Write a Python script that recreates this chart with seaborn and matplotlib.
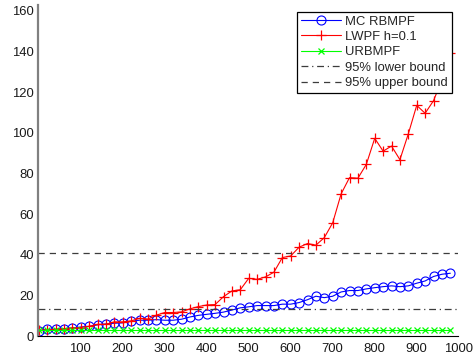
import matplotlib
matplotlib.use("Agg")
import matplotlib.pyplot as plt
import seaborn as sns
import pandas as pd

# ---- data ----
x_vals = [1, 21, 41, 61, 81, 101, 121, 141, 161, 181,
          201, 221, 241, 261, 281, 301, 321, 341, 361, 381,
          401, 421, 441, 461, 481, 501, 521, 541, 561, 581,
          601, 621, 641, 661, 681, 701, 721, 741, 761, 781,
          801, 821, 841, 861, 881, 901, 921, 941, 961, 981]

mc_rbmpf = [2.6, 3.4, 3.5, 3.7, 4.1, 4.6, 4.9, 5.6, 6.1, 6.4,
            6.6, 7.3, 7.9, 7.9, 8.2, 7.9, 7.9, 8.4, 9.5, 10.3,
            10.8, 11.3, 11.9, 12.9, 14.0, 14.5, 15.1, 15.1, 15.1, 15.8,
            15.8, 16.6, 18.0, 19.7, 19.0, 19.7, 21.8, 22.5, 22.5, 23.3,
            23.9, 24.4, 24.8, 24.4, 24.8, 26.1, 27.2, 29.4, 30.5, 31.0]

lwpf = [3.0, 3.2, 3.4, 3.8, 4.1, 4.3, 4.9, 5.9, 5.9, 7.1,
        7.1, 7.6, 8.8, 8.5, 10.4, 11.7, 11.7, 12.0, 13.5, 14.6,
        15.4, 15.6, 19.5, 22.3, 22.9, 28.5, 28.0, 29.2, 31.5, 38.7,
        39.5, 43.8, 45.6, 44.8, 48.5, 55.8, 70.0, 78.0, 77.7, 84.5,
        97.3, 91.0, 93.5, 86.8, 99.5, 113.5, 109.6, 115.8, 126.0, 139.2]

urbmpf = [3.0, 3.0, 3.0, 3.0, 3.0, 3.0, 3.0, 3.0, 3.0, 3.0,
          3.0, 3.0, 3.0, 3.0, 3.0, 3.0, 3.0, 3.0, 3.0, 3.0,
          3.0, 3.0, 3.0, 3.0, 3.0, 3.0, 3.0, 3.0, 3.0, 3.0,
          3.0, 3.0, 3.0, 3.0, 3.0, 3.0, 3.0, 3.0, 3.0, 3.0,
          3.0, 3.0, 3.0, 3.0, 3.0, 3.0, 3.0, 3.0, 3.0, 3.0]

bound_x = [0, 1000]
lower_bound = [13.3, 13.3]
upper_bound = [40.8, 40.8]

x_ticks = [100, 200, 300, 400, 500, 600, 700, 800, 900, 1000]
y_ticks = [0, 20, 40, 60, 80, 100, 120, 140, 160]

labels = ["MC RBMPF", "LWPF h=0.1", "URBMPF", "95% lower bound", "95% upper bound"]

# ---- styling ----
sns.set_style("white")
plt.rcParams["font.family"] = ["Liberation Sans", "DejaVu Sans"]
plt.rcParams["font.size"] = 9.4

fig = plt.figure(figsize=(4.77, 3.60), dpi=100)
ax = fig.add_axes([0.0803, 0.0658, 0.8805, 0.9202])

df = pd.DataFrame({"x": x_vals, "mc": mc_rbmpf, "lw": lwpf, "ur": urbmpf})
dfb = pd.DataFrame({"x": bound_x, "lo": lower_bound, "hi": upper_bound})

sns.lineplot(data=df, x="x", y="mc", ax=ax, color=(0, 0, 1), lw=0.8,
             marker="o", markersize=6.5, markerfacecolor="none",
             markeredgecolor=(0, 0, 1), markeredgewidth=0.8, label=labels[0])
sns.lineplot(data=df, x="x", y="lw", ax=ax, color=(1, 0, 0), lw=0.8,
             marker="+", markersize=7.5, markeredgewidth=0.9,
             markeredgecolor=(1, 0, 0), label=labels[1])
sns.lineplot(data=df, x="x", y="ur", ax=ax, color=(0, 1, 0), lw=0.8,
             marker="x", markersize=4.5, markeredgewidth=0.9,
             markeredgecolor=(0, 1, 0), label=labels[2])
sns.lineplot(data=dfb, x="x", y="lo", ax=ax, color="#3c3c3c", lw=0.9,
             label=labels[3]).lines[-1].set_dashes((5.5, 3, 1, 3))
sns.lineplot(data=dfb, x="x", y="hi", ax=ax, color="#3c3c3c", lw=0.9,
             label=labels[4]).lines[-1].set_dashes((5, 4))

ax.set_xlim(0, 1000)
ax.set_ylim(0, 162.8)
ax.set_xticks(x_ticks)
ax.set_yticks(y_ticks)
ax.set_xlabel("")
ax.set_ylabel("")

for s in ["top", "right"]:
    ax.spines[s].set_visible(False)
ax.spines["left"].set_color("#808080")
ax.spines["left"].set_linewidth(1.6)
ax.spines["bottom"].set_color("black")
ax.spines["bottom"].set_linewidth(0.8)

ax.tick_params(axis="both", direction="in", length=3.5, width=0.7,
               colors="#222222", labelsize=9.4, labelcolor="#1a1a1a")
ax.tick_params(axis="x", pad=5)
ax.tick_params(axis="y", pad=3)

leg = ax.legend(loc="upper right", fontsize=9.4, frameon=True, fancybox=False,
                edgecolor="black", framealpha=1, borderpad=0.3,
                labelspacing=0.25, handlelength=3.0, handletextpad=0.35,
                borderaxespad=0.5, numpoints=1)
leg.get_frame().set_linewidth(0.9)

fig.savefig("out.png", dpi=100)
